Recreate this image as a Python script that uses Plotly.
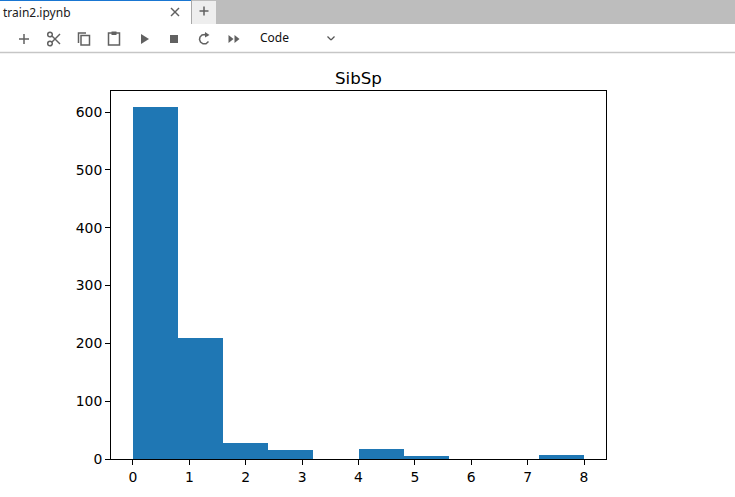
import plotly.graph_objects as go

# Histogram data
bin_edges = [0.0, 0.8, 1.6, 2.4, 3.2, 4.0, 4.8, 5.6, 6.4, 7.2, 8.0]
counts = [609, 210, 28, 16, 0, 18, 6, 0, 0, 7]
x_ticks = [0, 1, 2, 3, 4, 5, 6, 7, 8]
y_ticks = [0, 100, 200, 300, 400, 500, 600]
chart_title = "SibSp"
tab_label = "train2.ipynb"
cell_type = "Code"

W, H = 735, 497
L, R, T, B = 111, 606, 91, 459

centres = [(a + b) / 2 for a, b in zip(bin_edges[:-1], bin_edges[1:])]
widths = [b - a for a, b in zip(bin_edges[:-1], bin_edges[1:])]

fig = go.Figure(go.Bar(x=centres, y=counts, width=widths, marker=dict(color="#1f77b4", line=dict(width=0)), hoverinfo="skip"))


def px_x(x):
    return x / W


def px_y(y):
    return 1 - y / H


shapes = []


def rect(x0, y0, x1, y1, fill, line=None, lw=0):
    shapes.append(dict(type="rect", xref="paper", yref="paper", x0=px_x(x0), x1=px_x(x1), y0=px_y(y0), y1=px_y(y1),
                       fillcolor=fill, line=dict(color=line or fill, width=lw), layer="below"))


def seg(x0, y0, x1, y1, color="#616161", lw=1.5):
    shapes.append(dict(type="line", xref="paper", yref="paper", x0=px_x(x0), x1=px_x(x1), y0=px_y(y0), y1=px_y(y1),
                       line=dict(color=color, width=lw), layer="below"))


def circle(cx, cy, r, color="#616161", lw=1.5):
    shapes.append(dict(type="circle", xref="paper", yref="paper", x0=px_x(cx - r), x1=px_x(cx + r), y0=px_y(cy - r), y1=px_y(cy + r),
                       line=dict(color=color, width=lw), layer="below"))


def poly(points, fill="#616161"):
    path = "M " + " L ".join(f"{px_x(a):.5f} {px_y(b):.5f}" for a, b in points) + " Z"
    shapes.append(dict(type="path", xref="paper", yref="paper", path=path, fillcolor=fill, line=dict(width=0), layer="below"))


def open_path(points, color="#616161", lw=1.5):
    path = "M " + " L ".join(f"{px_x(a):.5f} {px_y(b):.5f}" for a, b in points)
    shapes.append(dict(type="path", xref="paper", yref="paper", path=path, line=dict(color=color, width=lw), layer="below"))


# Tab strip
rect(0, 0, 735, 24, "#bdbdbd")
rect(0, 0, 191, 24, "#ffffff")
rect(192, 1, 216, 24, "#eeeeee")
rect(0, 0, 191, 1, "#1976d2")
seg(191.5, 0, 191.5, 24, "#a8a8a8", 1)
rect(0, 24, 735, 52, "#ffffff")
seg(0, 52.5, 735, 52.5, "#c6c6c6", 1.5)
# Tab close and new-tab icons
seg(171, 8, 179, 16)
seg(179, 8, 171, 16)
seg(199.5, 11, 208.5, 11)
seg(204, 6.5, 204, 15.5)
# Add
seg(19, 39, 29, 39)
seg(24, 34, 24, 44)
# Cut
circle(50, 43.5, 2.3)
circle(50, 34.5, 2.3)
seg(52, 36, 60, 44)
seg(52, 42, 60, 34)
# Copy
open_path([(78.5, 43), (78.5, 33), (86, 33)])
rect(81, 35.5, 89.5, 45, "#ffffff", "#616161", 1.5)
# Paste
rect(108.5, 33, 119.5, 45, "#ffffff", "#616161", 1.5)
rect(111.5, 31.5, 116.5, 35, "#616161")
# Run, stop
poly([(141, 34), (149, 39), (141, 44)])
rect(170, 35, 178, 43, "#616161")
# Restart
open_path([(208, 35.5), (205, 34.5), (202, 35), (200, 37), (199.5, 39.5), (200.5, 42), (203, 43.8), (206, 43.8), (208.5, 41.5)])
poly([(205, 32), (209.5, 35), (205, 37.5)])
# Run all
poly([(228.5, 35), (233.5, 39), (228.5, 43)])
poly([(234.5, 35), (239.5, 39), (234.5, 43)])
# Dropdown chevron
seg(327.5, 36.5, 331, 40, "#555555", 1.3)
seg(331, 40, 334.5, 36.5, "#555555", 1.3)

annotations = [
    dict(text=tab_label, x=px_x(3), y=px_y(12.5), font=dict(family="Noto Sans", size=12, color="#202020")),
    dict(text=cell_type, x=px_x(260), y=px_y(37.5), font=dict(family="Noto Sans", size=12, color="#101010")),
]
for a in annotations:
    a.update(xref="paper", yref="paper", xanchor="left", yanchor="middle", showarrow=False, borderpad=0, borderwidth=0)

axis_font = dict(family="DejaVu Sans", size=13.9, color="#000000")
common = dict(showgrid=False, zeroline=False, showline=True, linecolor="#000000", linewidth=1.1, mirror=True,
              ticks="outside", ticklen=4.9, tickwidth=1.1, tickcolor="#000000", tickfont=axis_font, fixedrange=True,
              automargin=False)

fig.update_layout(
    width=W, height=H, autosize=False,
    margin=dict(l=0, r=0, t=0, b=0, pad=0),
    paper_bgcolor="#ffffff", plot_bgcolor="#ffffff",
    showlegend=False, bargap=0,
    xaxis=dict(domain=[L / W, R / W], range=[-0.39, 8.39], tickvals=x_ticks, **common),
    yaxis=dict(domain=[1 - B / H, 1 - T / H], range=[0, 636.5], tickvals=y_ticks, **common),
    shapes=shapes,
    annotations=annotations + [dict(text=chart_title, xref="paper", yref="paper", x=px_x(358.5), y=px_y(78), xanchor="center", yanchor="middle",
                                    showarrow=False, font=dict(family="DejaVu Sans", size=16.67, color="#000000"))],
)

fig.write_html("out.html", config=dict(displayModeBar=False),
               post_script="document.body.style.margin='0';document.body.style.overflow='hidden';")
